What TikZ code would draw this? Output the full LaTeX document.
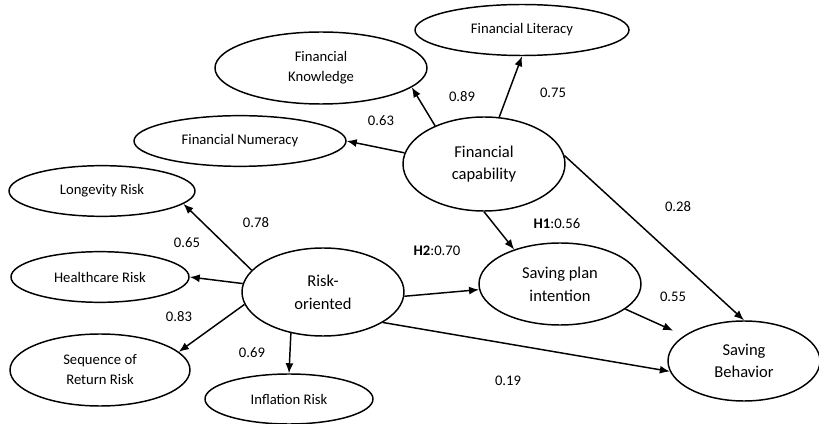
\documentclass[tikz,border=0pt]{standalone}
\usepackage{fontspec}
\setmainfont{Carlito}
\usepackage{tikz}
\usetikzlibrary{arrows.meta}
\usetikzlibrary{shapes.geometric, positioning, calc}

\tikzset{
  small/.style={ellipse, draw, line width=1.1pt, inner sep=0pt, align=center, font=\fontsize{11}{15}\selectfont},
  big/.style={ellipse, draw, line width=1.1pt, inner sep=0pt, align=center, font=\fontsize{12.4}{17}\selectfont},
  arr/.style={-{Latex[length=7.5pt, width=6pt]}, line width=1.1pt},
  val/.style={font=\fontsize{11}{13}\selectfont, inner sep=0pt}
}

\begin{document}
\begin{tikzpicture}[x=0.75pt, y=-0.75pt]
      \useasboundingbox (0, 0) rectangle (819, 424);

      \node[small, minimum width=160.5pt, minimum height=38.25pt] (lit) at (522, 30) {Financial Literacy};
      \node[small, minimum width=159pt, minimum height=54pt] (know) at (321, 68) {Financial\\Knowledge};
      \node[small, minimum width=159pt, minimum height=38pt] (num) at (240, 141) {Financial Numeracy};
      \node[small, minimum width=139.5pt, minimum height=38pt] (lon) at (102, 191) {Longevity Risk};
      \node[small, minimum width=133.5pt, minimum height=38pt] (hea) at (100, 277) {Healthcare Risk};
      \node[small, minimum width=135pt, minimum height=54pt] (seq) at (100, 370) {Sequence of\\Return Risk};
      \node[small, minimum width=126pt, minimum height=37.5pt] (inf) at (289, 399) {Inflation Risk};

      \node[big, minimum width=121.5pt, minimum height=70.5pt] (cap) at (484, 164) {Financial\\capability};
      \node[big, minimum width=121.5pt, minimum height=66pt] (risk) at (323, 292) {Risk-\\oriented};
      \node[big, minimum width=121.5pt, minimum height=61.5pt] (int) at (560, 284) {Saving plan\\intention};
      \node[big, minimum width=114pt, minimum height=60pt] (beh) at (744, 361) {Saving\\Behavior};

      \draw[arr] (cap.142) -- (know.-12);
      \draw[arr] (cap.72) -- (lit.south);
      \draw[arr] (cap.172) -- (num.east);
      \draw[arr] (cap.6) -- (beh.north);
      \draw[arr] (cap.south) -- (int.143);

      \draw[arr] (risk.163) -- (lon.-9);
      \draw[arr] (risk.174) -- (hea.east);
      \draw[arr] (risk.-171) -- (seq.13);
      \draw[arr] (risk.-128) -- (inf.north);
      \draw[arr] (risk.-3) -- (int.-176);
      \draw[arr] (risk.-27) -- (beh.-172);
      \draw[arr, shorten >=9pt] (int.-21) -- (beh.157);

      \node[val] (v89) at (462, 97) {0.89};
      \node[val] (v75) at (553, 93) {0.75};
      \node[val] (v63) at (381, 121) {0.63};
      \node[val] (v28) at (678, 207) {0.28};
      \node[val] (v78) at (256, 223) {0.78};
      \node[val] (v65) at (187, 243) {0.65};
      \node[val] (v83) at (179, 317) {0.83};
      \node[val] (v69) at (252, 353) {0.69};
      \node[val] (h2) at (437, 251) {\textbf{H2}:0.70};
      \node[val] (h1) at (557, 224) {\textbf{H1}:0.56};
      \node[val] (v55) at (673, 297) {0.55};
      \node[val] (v19) at (508, 381) {0.19};

    \end{tikzpicture}
\end{document}
